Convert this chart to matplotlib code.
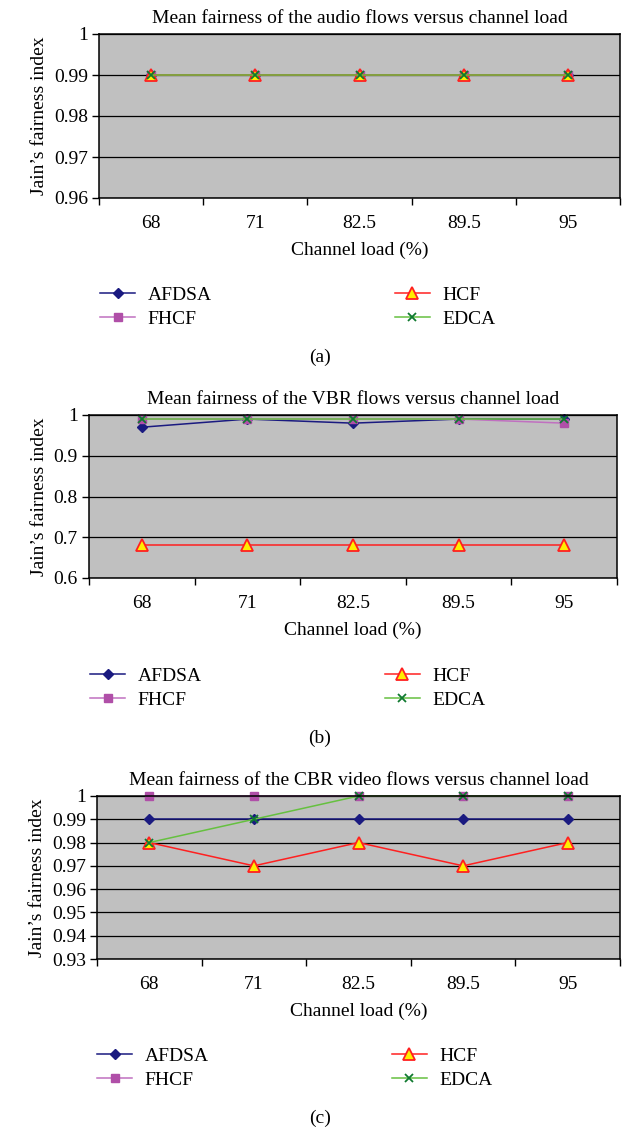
import numpy as np
import matplotlib
matplotlib.use("Agg")
import matplotlib.pyplot as plt

plt.rcParams['font.family'] = ['Liberation Serif', 'DejaVu Serif']
plt.rcParams['font.size'] = 14

loads = ["68", "71", "82.5", "89.5", "95"]
series_names = ["AFDSA", "FHCF", "HCF", "EDCA"]

# (a) audio flows
audio_afdsa = [0.99, 0.99, 0.99, 0.99, 0.99]
audio_fhcf = [0.99, 0.99, 0.99, 0.99, 0.99]
audio_hcf = [0.99, 0.99, 0.99, 0.99, 0.99]
audio_edca = [0.99, 0.99, 0.99, 0.99, 0.99]

# (b) VBR flows
vbr_afdsa = [0.97, 0.99, 0.98, 0.99, 0.99]
vbr_fhcf = [0.99, 0.99, 0.99, 0.99, 0.98]
vbr_hcf = [0.68, 0.68, 0.68, 0.68, 0.68]
vbr_edca = [0.99, 0.99, 0.99, 0.99, 0.99]

# (c) CBR video flows
cbr_afdsa = [0.99, 0.99, 0.99, 0.99, 0.99]
cbr_fhcf = [1.0, 1.0, 1.0, 1.0, 1.0]
cbr_hcf = [0.98, 0.97, 0.98, 0.97, 0.98]
cbr_edca = [0.98, 0.99, 1.0, 1.0, 1.0]

audio_yticks = [0.96, 0.97, 0.98, 0.99, 1.0]
audio_ylabels = ["0.96", "0.97", "0.98", "0.99", "1"]
vbr_yticks = [0.6, 0.7, 0.8, 0.9, 1.0]
vbr_ylabels = ["0.6", "0.7", "0.8", "0.9", "1"]
cbr_yticks = [0.93, 0.94, 0.95, 0.96, 0.97, 0.98, 0.99, 1.0]
cbr_ylabels = ["0.93", "0.94", "0.95", "0.96", "0.97", "0.98", "0.99", "1"]

styles = {
    "AFDSA": dict(color="#1a1a80", marker="D", markersize=5, markerfacecolor="#1a1a80", markeredgecolor="#1a1a80"),
    "FHCF": dict(color="#c070c0", marker="s", markersize=6, markerfacecolor="#b04fa8", markeredgecolor="#b04fa8"),
    "HCF": dict(color="#ff2020", marker="^", markersize=8, markerfacecolor="#ffee00", markeredgecolor="#ff2020", markeredgewidth=1.3),
    "EDCA": dict(color="#66c040", marker="x", markersize=6, markeredgecolor="#107a30", markeredgewidth=1.3),
}

W, H = 627, 1132
fig = plt.figure(figsize=(W / 100, H / 100), dpi=100)

title_a = "Mean fairness of the audio flows versus channel load"
title_b = "Mean fairness of the VBR flows versus channel load"
title_c = "Mean fairness of the CBR video flows versus channel load"


def panel(rect, title, caption, data, yticks, ylabels, legend_xy, caption_y):
    l, r, t, b = rect
    ax = fig.add_axes([l / W, 1 - b / H, (r - l) / W, (b - t) / H])
    ax.set_facecolor("#c0c0c0")
    x = np.arange(len(loads))
    for name, vals in zip(series_names, data):
        ax.plot(x, vals, linewidth=1.1, label=name, clip_on=False, **styles[name])
    ax.set_xlim(-0.5, len(loads) - 0.5)
    ax.set_ylim(yticks[0], yticks[-1])
    ax.set_yticks(yticks)
    ax.set_yticklabels(ylabels)
    ax.set_xticks(x)
    ax.set_xticklabels(loads)
    ax.set_xticks(np.arange(-0.5, len(loads)), minor=True)
    ax.tick_params(axis="x", which="major", length=0, pad=12, labelsize=14)
    ax.tick_params(axis="x", which="minor", length=5, width=1, direction="out")
    ax.tick_params(axis="y", length=5, width=1, direction="out", pad=3, labelsize=14)
    ax.yaxis.grid(True, color="black", linewidth=0.9)
    ax.set_axisbelow(True)
    for s in ax.spines.values():
        s.set_linewidth(1.1)
    ax.set_title(title, fontsize=14, pad=8)
    ax.set_xlabel("Channel load (%)", fontsize=14, labelpad=7)
    ax.set_ylabel("Jain\u2019s fairness index", fontsize=14, labelpad=4)
    ax.legend(loc="center left", bbox_to_anchor=(legend_xy[0] / W, 1 - legend_xy[1] / H),
              bbox_transform=fig.transFigure, ncol=2, frameon=False,
              handlelength=1.8, handletextpad=0.65, columnspacing=9.4,
              labelspacing=0.35, borderpad=0, borderaxespad=0, fontsize=14)
    fig.text(0.51, 1 - caption_y / H, caption, ha="center", va="center", fontsize=14)
    return ax


panel((99, 620, 34, 198), title_a, "(a)",
      [audio_afdsa, audio_fhcf, audio_hcf, audio_edca],
      audio_yticks, audio_ylabels, (100, 307), 357)
panel((89, 617, 415, 578), title_b, "(b)",
      [vbr_afdsa, vbr_fhcf, vbr_hcf, vbr_edca],
      vbr_yticks, vbr_ylabels, (90, 688), 738)
panel((97, 620, 796, 959), title_c, "(c)",
      [cbr_afdsa, cbr_fhcf, cbr_hcf, cbr_edca],
      cbr_yticks, cbr_ylabels, (97, 1068), 1118)

fig.savefig("out.png", dpi=100, facecolor="white")
